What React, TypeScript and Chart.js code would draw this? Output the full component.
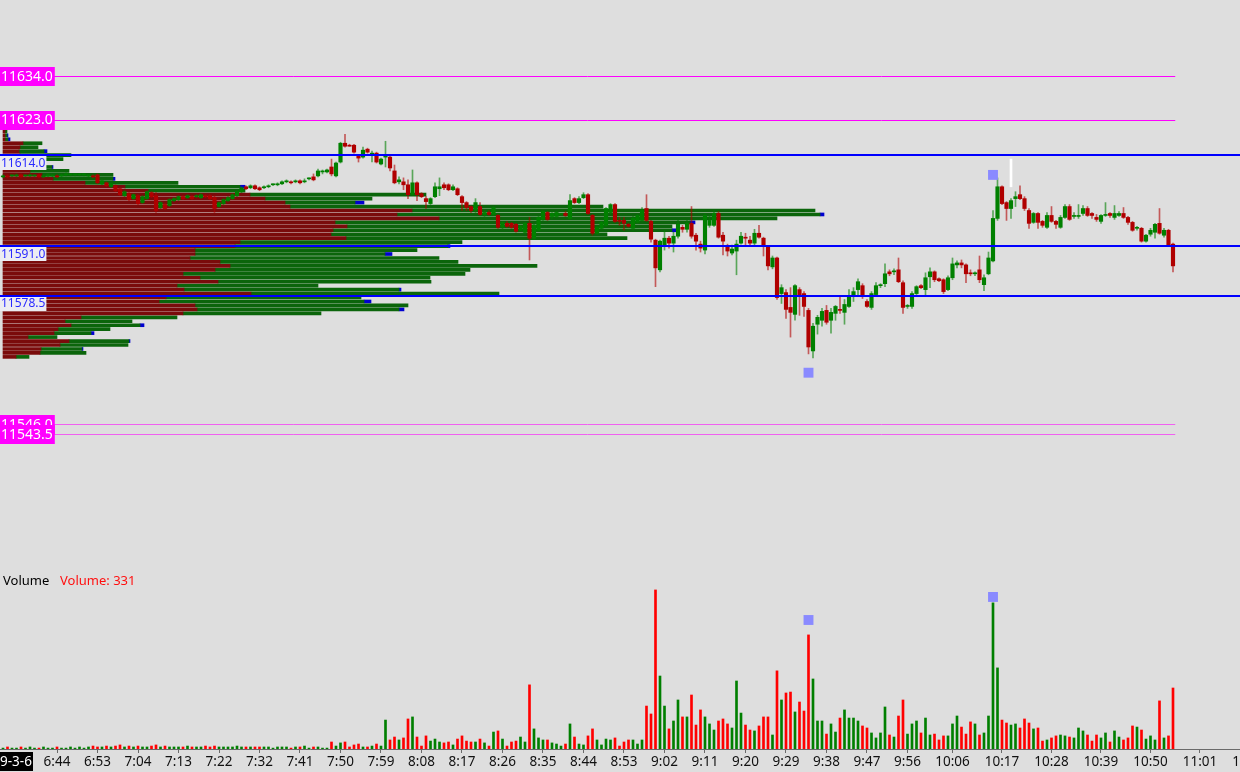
import React, { useEffect, useRef } from "react";
import { Chart, registerables } from "chart.js";

Chart.register(...registerables);

// ---------- candle data (1-minute bars, index 0..260) ----------
const opens = [
  11608.5, 11608.75, 11608.75, 11608.75, 11609, 11608.75, 11608.75, 11608.75, 11609, 11608.5,
  11608.75, 11608.75, 11608.75, 11608.75, 11609, 11609, 11609, 11609, 11609, 11608.75,
  11608.75, 11609, 11606.75, 11607, 11606, 11606.25, 11605.5, 11603.75, 11604.25, 11603,
  11603.75, 11602, 11603, 11604.5, 11603.75, 11600.75, 11601.5, 11601.25, 11602.5, 11602.75,
  11603.5, 11603.25, 11603.5, 11603.5, 11603.25, 11603.75, 11603.75, 11603.25, 11601, 11601.75,
  11602.5, 11603, 11603.75, 11604.75, 11606, 11605.75, 11606.25, 11605.75, 11605.75, 11606,
  11606.5, 11606.5, 11606.75, 11607.25, 11607.25, 11607.25, 11607.5, 11607.25, 11608, 11608.5,
  11608.75, 11609.75, 11609.75, 11611, 11608.75, 11612.25, 11617, 11616.5, 11616.5, 11613.75,
  11613.5, 11615.5, 11614, 11614.5, 11611.75, 11613.5, 11613.5, 11610, 11607.25, 11607.25,
  11606.5, 11604, 11607, 11604.25, 11603, 11601.75, 11603.5, 11605.5, 11606.5, 11606.5,
  11605.25, 11605.5, 11603.5, 11602, 11601, 11600, 11601, 11599, 11599.5, 11599,
  11598.75, 11595.75, 11596.75, 11596.75, 11596.5, 11595, 11594.5, 11596.75, 11593, 11595,
  11597.75, 11599.5, 11598.5, 11598.5, 11599, 11599.25, 11598, 11603, 11602, 11603.25,
  11604, 11598.75, 11594.25, 11595.5, 11596.25, 11599.5, 11601.5, 11597.5, 11597.5, 11596.5,
  11595.5, 11597, 11597.5, 11600.5, 11597.25, 11592.5, 11585, 11591.25, 11593, 11591.75,
  11593.5, 11595.75, 11595.25, 11596.75, 11593.75, 11591.5, 11590, 11596.25, 11596.25, 11599.25,
  11593.75, 11590.75, 11589.25, 11589.75, 11591.75, 11593.25, 11592.5, 11591.75, 11594.25, 11593,
  11590.75, 11585.75, 11588, 11579, 11579.25, 11575.5, 11573.75, 11580, 11579, 11574.75,
  11564.5, 11571.25, 11572.25, 11574.75, 11572.25, 11574, 11575, 11574.25, 11575.75, 11578.25,
  11580, 11581, 11577, 11575.5, 11578.75, 11581, 11581.5, 11584.5, 11584.5, 11585,
  11581.75, 11575.75, 11575.75, 11579, 11581, 11580, 11583.25, 11584.5, 11582.75, 11582.5,
  11580, 11583, 11586.25, 11586.75, 11586.25, 11584.25, 11584, 11585, 11581.25, 11584,
  11587.25, 11598, 11606, 11602, 11600.5, 11603, 11604, 11603, 11600, 11597,
  11599.25, 11597.25, 11595.75, 11598.75, 11597.25, 11595.75, 11598.25, 11601, 11598.5, 11598.5,
  11599.25, 11600.5, 11599.25, 11598.25, 11597.25, 11598.75, 11599.25, 11598.25, 11598.75, 11599.25,
  11598.25, 11597, 11595.5, 11595.5, 11592.25, 11594, 11594.5, 11596.75, 11593.75, 11595,
  11591.5,
];
const highs = [
  11609, 11609, 11609, 11609.25, 11609.25, 11609, 11609.25, 11609, 11609.25, 11609,
  11609.25, 11609, 11609, 11609.25, 11609.5, 11609.25, 11609.25, 11609.25, 11609.25, 11609,
  11609, 11609.25, 11607.75, 11607.25, 11607, 11606.5, 11605.75, 11605, 11604.5, 11604.25,
  11604, 11603.75, 11605, 11604.75, 11604.5, 11602.25, 11601.75, 11603, 11603.25, 11603.75,
  11603.75, 11604, 11603.75, 11604, 11604.25, 11604, 11604, 11603.75, 11602.25, 11603,
  11603.5, 11604.25, 11605, 11606, 11606.25, 11606.5, 11606.5, 11606, 11606.25, 11606.5,
  11606.75, 11607, 11607.5, 11607.75, 11607.5, 11607.75, 11607.75, 11608, 11608.25, 11609.25,
  11610.5, 11610.25, 11610.5, 11613, 11612.25, 11617.25, 11619.25, 11616.75, 11616.75, 11614,
  11616, 11615.75, 11615, 11614.75, 11613.25, 11617.5, 11614, 11611.5, 11608.5, 11608.25,
  11607.75, 11610.25, 11607.25, 11604.5, 11603.5, 11603.25, 11607, 11608.25, 11607, 11606.75,
  11606.5, 11605.75, 11603.75, 11602.25, 11601.25, 11603, 11602, 11600, 11600, 11601,
  11599, 11597.25, 11597.25, 11597, 11596.75, 11596.25, 11597, 11598.25, 11596.5, 11598.5,
  11600, 11599.75, 11599.5, 11599.75, 11599.25, 11599.75, 11604, 11603.25, 11603.5, 11604.5,
  11604.25, 11599, 11596, 11597.25, 11600.75, 11601.75, 11601.75, 11598.25, 11598.25, 11596.75,
  11598.5, 11599, 11600.75, 11604, 11597.5, 11592.75, 11592.5, 11595, 11593.5, 11594.5,
  11597.5, 11596.25, 11597.5, 11601, 11594.25, 11592.25, 11599.25, 11598.75, 11600, 11599.75,
  11594.5, 11591.5, 11591.25, 11592.5, 11594.5, 11594.25, 11593.5, 11595.25, 11596.25, 11593.25,
  11591, 11588.5, 11588.25, 11581.25, 11580, 11580.5, 11581.25, 11580.5, 11579.5, 11575.25,
  11571.5, 11573.5, 11575.25, 11576, 11575.25, 11576, 11578.25, 11577.5, 11580, 11580.5,
  11582.75, 11581.5, 11577.5, 11579.5, 11581.75, 11581.5, 11586.5, 11585, 11585.25, 11588,
  11582.25, 11576.25, 11579.5, 11581, 11581.25, 11584.25, 11585.5, 11584.75, 11583, 11582.75,
  11583.5, 11588, 11587.25, 11587.5, 11586.5, 11585, 11584.5, 11588.5, 11583.75, 11589.5,
  11600, 11608.25, 11606.25, 11602.25, 11603, 11604.75, 11606.25, 11603.5, 11600.5, 11599.5,
  11599.5, 11597.5, 11599.5, 11601, 11597.5, 11598.75, 11601.5, 11601.5, 11599.5, 11601.5,
  11601.25, 11601, 11599.5, 11599, 11599, 11602, 11599.5, 11601.25, 11599.75, 11600.75,
  11598.5, 11597.25, 11596, 11595.75, 11594, 11595.5, 11596.75, 11600.5, 11595.5, 11595.25,
  11591.75,
];
const lows = [
  11608.25, 11608.25, 11608.5, 11608.5, 11608.25, 11608.5, 11608.5, 11608.5, 11608.25, 11608.25,
  11608.5, 11608.5, 11608.25, 11608.5, 11608.75, 11608.75, 11608.75, 11608.75, 11608.75, 11608.5,
  11608.25, 11606.75, 11606.5, 11606, 11605.75, 11604.75, 11603.75, 11603.5, 11602.5, 11602.75,
  11601.5, 11601.75, 11602.75, 11603.25, 11599.5, 11600.5, 11600.25, 11601, 11602.25, 11602.5,
  11602.75, 11603, 11602.75, 11603.25, 11603, 11603.25, 11602.75, 11599.5, 11600.75, 11601.5,
  11602.25, 11602.75, 11603.5, 11604.5, 11605.25, 11605.5, 11605.25, 11605, 11605.5, 11605.75,
  11606.25, 11606.25, 11606.5, 11607, 11606.75, 11607, 11606.75, 11607, 11607.75, 11607.5,
  11608.5, 11609.25, 11609.5, 11608.75, 11608.5, 11612, 11616, 11616.25, 11614.5, 11612.25,
  11613.25, 11614.5, 11612.25, 11612, 11611.5, 11611, 11610, 11606.75, 11606.75, 11605.25,
  11603, 11603.75, 11602.5, 11603.25, 11600.5, 11601.5, 11603.25, 11603.75, 11605.25, 11605,
  11605, 11603.75, 11600, 11600, 11599.5, 11599.5, 11598.75, 11598.5, 11598.75, 11598.75,
  11595.5, 11595.25, 11595.75, 11595.5, 11594.5, 11594.75, 11594.25, 11587.5, 11592.75, 11594.75,
  11597.5, 11597.5, 11598, 11598.25, 11598.75, 11598.5, 11597.75, 11601.75, 11601.75, 11603,
  11599, 11593.75, 11594, 11595.25, 11596, 11599.25, 11597, 11596.25, 11595, 11595.75,
  11595, 11596.75, 11597.25, 11597.25, 11592, 11580.75, 11584.5, 11590, 11590.5, 11589.5,
  11593, 11594.5, 11594.5, 11593, 11590, 11589.5, 11589, 11595.75, 11596, 11593,
  11588.75, 11588.5, 11588.75, 11583.75, 11591.5, 11591.25, 11591, 11591.25, 11593, 11588.5,
  11585, 11585.25, 11577.5, 11576.5, 11572.75, 11568, 11572.25, 11573.5, 11573.25, 11563.75,
  11562.75, 11568.75, 11570.75, 11571.25, 11569, 11572.25, 11574, 11571.25, 11575.5, 11577,
  11578.25, 11577.75, 11575.5, 11575, 11578.5, 11580.5, 11580.75, 11583.5, 11583.75, 11581.75,
  11574, 11575.25, 11575.25, 11578.75, 11580.25, 11578.25, 11580.5, 11582, 11582, 11579,
  11579.75, 11582.5, 11585.5, 11585.5, 11581.75, 11583.5, 11583.5, 11581.75, 11579.75, 11583.75,
  11587, 11597.5, 11601.5, 11597.5, 11598, 11601, 11602.75, 11600, 11595.5, 11596.75,
  11595.5, 11595.75, 11595.5, 11597, 11595.5, 11595.5, 11598, 11597.5, 11598, 11598,
  11598.75, 11598.5, 11598, 11597.25, 11596.75, 11598.5, 11598.25, 11597.75, 11598.5, 11598,
  11596.5, 11594.75, 11595, 11592, 11592, 11593.5, 11593, 11594, 11593.25, 11591,
  11584.5,
];
const closes = [
  11608.75, 11608.5, 11608.75, 11609, 11608.5, 11608.75, 11609, 11608.75, 11608.5, 11608.75,
  11609, 11608.75, 11608.5, 11609, 11609.25, 11609, 11609, 11609, 11609, 11608.75,
  11608.5, 11607, 11607.5, 11606.25, 11606.75, 11605, 11604, 11604.75, 11602.75, 11604,
  11601.75, 11603.5, 11604.75, 11603.5, 11600, 11602, 11600.5, 11602.75, 11603, 11603.5,
  11603, 11603.75, 11603, 11603.75, 11604, 11603.5, 11603, 11600.5, 11602, 11602.75,
  11603.25, 11604, 11604.75, 11605.75, 11605.5, 11606.25, 11605.5, 11605.25, 11606, 11606.25,
  11606.5, 11606.75, 11607.25, 11607.5, 11607, 11607.5, 11607, 11607.5, 11608, 11607.75,
  11610, 11609.75, 11610.25, 11609.25, 11612, 11617, 11616.25, 11616.25, 11614.75, 11613.25,
  11615.25, 11614.75, 11614.5, 11612.25, 11613, 11613.75, 11610.75, 11607, 11607.75, 11606.5,
  11604, 11607, 11604, 11603.5, 11602.25, 11603, 11606, 11606, 11605.75, 11605.25,
  11606, 11604, 11602, 11600.75, 11600, 11602, 11599, 11599.5, 11599, 11600.75,
  11595.75, 11597, 11596, 11595.75, 11594.75, 11596, 11596.75, 11593, 11596.25, 11598.25,
  11599.75, 11597.75, 11599.25, 11599.5, 11599, 11598.75, 11602.5, 11602, 11603, 11604,
  11599.25, 11594.25, 11595.75, 11597, 11600.5, 11601.5, 11597.25, 11597.25, 11596.75, 11596,
  11598, 11598.75, 11600, 11597.5, 11592.75, 11585.5, 11592.25, 11593, 11591.75, 11593.5,
  11596.5, 11595.25, 11596.75, 11593.5, 11592.25, 11590.5, 11598.75, 11597.5, 11599.25, 11593.25,
  11592.25, 11589.75, 11590.25, 11591.5, 11593.5, 11593, 11591.75, 11594.25, 11593.25, 11591,
  11586, 11588, 11578, 11580.5, 11575, 11574.25, 11581, 11578.25, 11575.75, 11565.5,
  11570.75, 11573, 11574.5, 11571.75, 11574.25, 11575.75, 11574.75, 11576.25, 11578.25, 11579.5,
  11582, 11578.25, 11575.75, 11579, 11581, 11581, 11584, 11584, 11584.5, 11582,
  11575.5, 11575.75, 11579, 11580.75, 11580.5, 11583, 11584.5, 11582.5, 11582.25, 11579.5,
  11583, 11586.5, 11586.75, 11586.25, 11584, 11584, 11584.25, 11582.5, 11583, 11588,
  11598, 11606, 11601.75, 11600.5, 11602.5, 11603.5, 11603, 11600.5, 11596.75, 11599.25,
  11597, 11596.25, 11598.75, 11597.25, 11596.5, 11598.25, 11601, 11597.75, 11598.75, 11598.75,
  11600.5, 11598.75, 11598.75, 11597.75, 11598.75, 11599, 11598.75, 11599.25, 11599.25, 11598.25,
  11597, 11595, 11595.75, 11592.25, 11593.75, 11595, 11596.5, 11594.25, 11595, 11591.25,
  11586,
];
const volumes = [
  5, 11, 5, 5, 11, 5, 11, 5, 5, 11,
  5, 5, 11, 5, 5, 11, 5, 11, 5, 11,
  16, 11, 11, 16, 11, 16, 22, 11, 16, 11,
  16, 11, 11, 16, 22, 11, 16, 11, 11, 11,
  11, 16, 11, 11, 11, 16, 11, 16, 11, 11,
  11, 11, 16, 11, 11, 11, 11, 11, 11, 11,
  5, 11, 11, 11, 5, 11, 11, 16, 5, 11,
  11, 5, 5, 38, 16, 33, 38, 11, 22, 27,
  11, 11, 16, 27, 16, 157, 49, 65, 49, 60,
  163, 174, 65, 16, 71, 43, 54, 38, 33, 38,
  22, 54, 71, 43, 38, 38, 54, 33, 16, 92,
  98, 54, 16, 38, 43, 65, 38, 348, 109, 60,
  49, 49, 33, 27, 16, 27, 136, 65, 27, 22,
  71, 109, 49, 22, 54, 49, 60, 16, 38, 49,
  49, 27, 49, 233, 190, 863, 396, 233, 109, 152,
  266, 174, 174, 293, 130, 212, 174, 136, 103, 152,
  163, 136, 114, 369, 195, 130, 103, 98, 125, 174,
  174, 76, 424, 266, 304, 309, 201, 255, 206, 619,
  380, 152, 152, 81, 136, 92, 168, 212, 168, 168,
  152, 125, 114, 87, 60, 87, 228, 76, 65, 179,
  266, 81, 136, 152, 87, 168, 76, 81, 49, 71,
  71, 136, 179, 119, 81, 147, 136, 76, 87, 179,
  793, 440, 157, 141, 130, 136, 114, 163, 141, 109,
  114, 43, 49, 60, 71, 76, 71, 65, 60, 114,
  98, 76, 43, 76, 60, 87, 38, 98, 65, 49,
  60, 125, 119, 103, 54, 71, 49, 261, 60, 71,
  331,
];

// ---------- time axis ----------
const tickIdx = [12, 21, 30, 39, 48, 57, 66, 75, 84, 93, 102, 111, 120, 129, 138, 147, 156, 165, 174, 183, 192, 201, 211, 222, 233, 244, 255, 266, 277];
const tickLabels = ["6:44", "6:53", "7:04", "7:13", "7:22", "7:32", "7:41", "7:50", "7:59", "8:08", "8:17", "8:26", "8:35", "8:44", "8:53", "9:02", "9:11", "9:20", "9:29", "9:38", "9:47", "9:56", "10:06", "10:17", "10:28", "10:39", "10:50", "11:01", "11:12"];
const dateLabel = "9-3-6";

// ---------- volume profile (per 1-point row) ----------
const profilePrices = [
  11620, 11619, 11618, 11617, 11616, 11615, 11614, 11613, 11612, 11611,
  11610, 11609, 11608, 11607, 11606, 11605, 11604, 11603, 11602, 11601,
  11600, 11599, 11598, 11597, 11596, 11595, 11594, 11593, 11592, 11591,
  11590, 11589, 11588, 11587, 11586, 11585, 11584, 11583, 11582, 11581,
  11580, 11579, 11578, 11577, 11576, 11575, 11574, 11573, 11572, 11571,
  11570, 11569, 11568, 11567, 11566, 11565, 11564, 11563,
];
const profileSell = [
  2, 2, 2, 20, 17, 16, 17, 17, 19, 22,
  27, 39, 50, 82, 122, 145, 247, 262, 282, 287,
  409, 394, 436, 332, 344, 330, 328, 343, 237, 232,
  192, 192, 187, 217, 227, 212, 180, 197, 215, 174,
  181, 248, 163, 156, 192, 194, 180, 78, 62, 68,
  55, 51, 25, 66, 57, 38, 37, 13,
];
const profileBuy = [
  2, 2, 3, 19, 18, 25, 51, 43, 18, 27,
  39, 71, 60, 93, 115, 97, 176, 107, 70, 313,
  403, 423, 338, 355, 325, 339, 276, 281, 222, 213,
  222, 190, 249, 238, 307, 255, 282, 230, 213, 141,
  215, 248, 195, 205, 213, 202, 138, 96, 67, 69,
  52, 37, 29, 60, 68, 41, 46, 13,
];
const profileExtra = [
  0, 1, 2, 0, 0, 3, 0, 0, 0, 1,
  0, 0, 2, 0, 5, 0, 0, 0, 9, 0,
  0, 4, 0, 5, 0, 5, 0, 0, 0, 2,
  0, 7, 0, 0, 0, 0, 0, 0, 0, 0,
  2, 0, 0, 7, 0, 5, 0, 0, 0, 4,
  0, 3, 0, 1, 0, 1, 0, 0,
];

// ---------- reference levels & markers ----------
const magentaLevels = [11634.0, 11623.0, 11546.0, 11543.5];
const blueLevels = [11614.0, 11591.0, 11578.5];
const markerIdx = [179, 220];
const markerPrice = [11559, 11609];
const markerVol = [700, 825];
const highlightIdx = 224;
const highlightRange = [11606, 11613];

const FONT = "'Noto Sans', 'DejaVu Sans', sans-serif";
const C_UP = "#008000";
const C_DN = "#b00000";

const overlayPlugin = {
  id: "overlay",
  beforeDraw(chart: any) {
    const { ctx, width, height } = chart;
    ctx.save();
    ctx.fillStyle = "#dedede";
    ctx.fillRect(0, 0, width, height);
    ctx.restore();
  },
  afterDatasetsDraw(chart: any) {
    const { ctx, chartArea } = chart;
    const ys = chart.scales.y;
    const xs = chart.scales.x;
    const lineEnd = xs.getPixelForValue(opens.length - 0.5);
    ctx.save();
    magentaLevels.forEach((p) => {
      const py = Math.round(ys.getPixelForValue(p)) + 0.5;
      ctx.strokeStyle = p > 11600 ? "#ff00ff" : "#f060f0";
      ctx.lineWidth = 1;
      ctx.beginPath();
      ctx.moveTo(chartArea.left, py);
      ctx.lineTo(lineEnd, py);
      ctx.stroke();
    });
    blueLevels.forEach((p) => {
      const py = Math.round(ys.getPixelForValue(p));
      ctx.strokeStyle = "#0000ff";
      ctx.lineWidth = 2;
      ctx.beginPath();
      ctx.moveTo(chartArea.left, py);
      ctx.lineTo(chartArea.right, py);
      ctx.stroke();
    });
    ctx.textBaseline = "middle";
    ctx.textAlign = "left";
    ctx.font = `14px ${FONT}`;
    magentaLevels.forEach((p) => {
      const py = ys.getPixelForValue(p);
      const text = p.toFixed(1);
      const w = ctx.measureText(text).width + 3;
      ctx.fillStyle = "#ff00ff";
      ctx.fillRect(0, Math.round(py - 9), w, 19);
      ctx.fillStyle = "#ffffff";
      ctx.fillText(text, 1, py + 1);
    });
    ctx.font = `12px ${FONT}`;
    blueLevels.forEach((p) => {
      const py = ys.getPixelForValue(p);
      const text = p.toFixed(1);
      const w = ctx.measureText(text).width + 2;
      ctx.fillStyle = "#ececf2";
      ctx.fillRect(0, Math.round(py + 1), w, 14);
      ctx.fillStyle = "#2a2aff";
      ctx.fillText(text, 1, py + 8.5);
    });
    ctx.restore();
  },
  afterDraw(chart: any) {
    const { ctx, chartArea } = chart;
    ctx.save();
    ctx.textBaseline = "middle";
    ctx.textAlign = "left";
    ctx.font = `13px ${FONT}`;
    ctx.fillStyle = "#000000";
    ctx.fillText("Volume", 3, 581);
    ctx.fillStyle = "#ff1010";
    ctx.fillText(`Volume: ${volumes[volumes.length - 1]}`, 60, 581);
    ctx.fillStyle = "#000000";
    ctx.fillRect(0, chartArea.bottom + 3, 33, 19);
    ctx.fillStyle = "#ffffff";
    ctx.font = `13.5px ${FONT}`;
    ctx.fillText(dateLabel, 0, chartArea.bottom + 13);
    ctx.restore();
  },
};

export default function App() {
  const ref = useRef<HTMLCanvasElement | null>(null);
  useEffect(() => {
    document.body.style.margin = "0";
    const canvas = ref.current;
    if (!canvas) return;
    const up = (i: number) => closes[i] >= opens[i];
    const idx = opens.map((_, i) => i);
    const profileBar = { type: "bar", indexAxis: "y", xAxisID: "xp", yAxisID: "y", barThickness: 3, grouped: false, order: 10 };

    const chart = new Chart(canvas, {
      type: "bar",
      data: {
        datasets: [
          {
            ...profileBar,
            label: "sell",
            data: profilePrices.map((p, i) => ({ y: p, x: [0, profileSell[i]] })),
            backgroundColor: "#7a0b0b",
          } as any,
          {
            ...profileBar,
            label: "buy",
            data: profilePrices.map((p, i) => ({ y: p, x: [profileSell[i], profileSell[i] + profileBuy[i]] })),
            backgroundColor: "#0b650b",
          } as any,
          {
            ...profileBar,
            label: "extra",
            data: profilePrices
              .map((p, i) => ({ y: p, x: [profileSell[i] + profileBuy[i], profileSell[i] + profileBuy[i] + profileExtra[i]] }))
              .filter((_, i) => profileExtra[i] > 0),
            backgroundColor: "#0000d0",
          } as any,
          {
            type: "bar",
            label: "volume",
            xAxisID: "x",
            yAxisID: "yv",
            data: idx.map((i) => ({ x: i, y: volumes[i] })),
            backgroundColor: idx.map((i) => (up(i) ? "#007f00" : "#ff0000")),
            barThickness: 2,
            grouped: false,
            order: 5,
          } as any,
          {
            type: "bar",
            label: "wick",
            xAxisID: "x",
            yAxisID: "y",
            data: idx.map((i) => ({ x: i, y: [lows[i], highs[i]] })),
            backgroundColor: idx.map((i) => (up(i) ? "rgba(0,128,0,0.6)" : "rgba(176,0,0,0.6)")),
            barThickness: 1,
            grouped: false,
            minBarLength: 1,
            order: 3,
          } as any,
          {
            type: "bar",
            label: "body",
            xAxisID: "x",
            yAxisID: "y",
            data: idx.map((i) => ({ x: i, y: [opens[i], closes[i]] })),
            backgroundColor: idx.map((i) => (up(i) ? C_UP : C_DN)),
            barThickness: 3.5,
            grouped: false,
            minBarLength: 1,
            order: 2,
          } as any,
          {
            type: "bar",
            label: "highlight",
            xAxisID: "x",
            yAxisID: "y",
            data: [{ x: highlightIdx, y: highlightRange }],
            backgroundColor: "#ffffff",
            barThickness: 2,
            grouped: false,
            order: 1,
          } as any,
          {
            type: "scatter",
            label: "markers",
            xAxisID: "x",
            yAxisID: "y",
            data: markerIdx.map((i, k) => ({ x: i, y: markerPrice[k] })),
            pointStyle: "rect",
            pointRadius: 7,
            backgroundColor: "#8a8aff",
            borderWidth: 0,
            order: 0,
          } as any,
          {
            type: "scatter",
            label: "volMarkers",
            xAxisID: "x",
            yAxisID: "yv",
            data: markerIdx.map((i, k) => ({ x: i, y: markerVol[k] })),
            pointStyle: "rect",
            pointRadius: 7,
            backgroundColor: "#8a8aff",
            borderWidth: 0,
            order: 0,
          } as any,
        ],
      },
      options: {
        animation: false,
        responsive: false,
        devicePixelRatio: 1,
        events: [],
        layout: { padding: 0, autoPadding: false },
        plugins: { legend: { display: false }, tooltip: { enabled: false } },
        scales: {
          x: {
            type: "linear",
            position: "bottom",
            min: -0.6667,
            max: 274.889,
            offset: false,
            beginAtZero: false,
            afterBuildTicks: (s: any) => {
              s.ticks = tickIdx.map((value) => ({ value }));
            },
            afterFit: (s: any) => {
              s.height = 23;
              s.paddingLeft = 0;
              s.paddingRight = 0;
            },
            grid: { display: true, drawOnChartArea: false, drawTicks: true, tickLength: 4, color: "#6a6a6a", offset: false },
            border: { display: true, color: "#6a6a6a", width: 1 },
            ticks: {
              autoSkip: false,
              maxRotation: 0,
              minRotation: 0,
              padding: 1,
              color: "#111111",
              font: { family: FONT, size: 13.5 },
              callback: (v: any) => {
                const k = tickIdx.indexOf(Number(v));
                return k >= 0 ? tickLabels[k] : "";
              },
            },
          },
          xp: { type: "linear", axis: "x", display: false, min: -3, max: 1237, offset: false, beginAtZero: false, grid: { offset: false } },
          y: { type: "linear", display: false, min: 11463.88, max: 11653.21, offset: false, beginAtZero: false, grid: { offset: false } },
          yv: { type: "linear", axis: "y", display: false, min: 0, max: 4064, offset: false, grid: { offset: false } },
        } as any,
      },
      plugins: [overlayPlugin],
    } as any);
    return () => chart.destroy();
  }, []);

  return (
    <div style={{ position: "fixed", left: 0, top: 0, width: 1240, height: 772, background: "#dedede" }}>
      <canvas ref={ref} width={1240} height={772} style={{ display: "block" }} />
    </div>
  );
}
